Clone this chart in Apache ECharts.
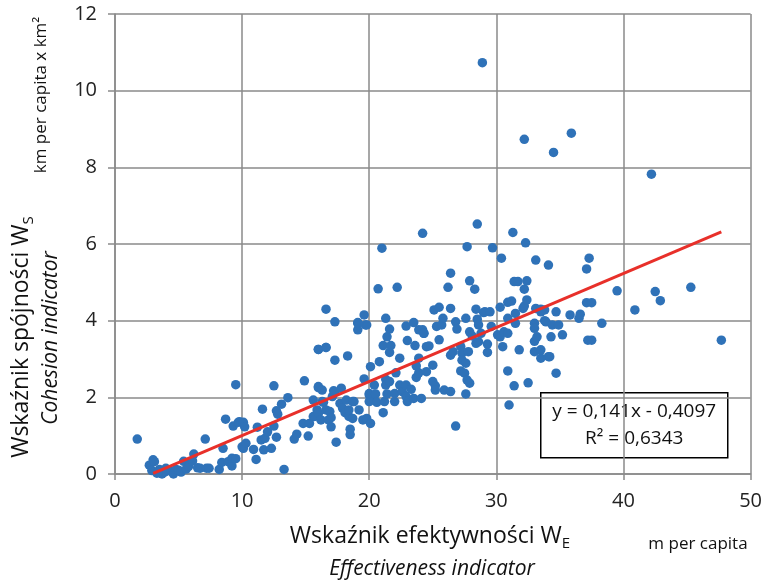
<!DOCTYPE html>
<html>
<head>
<meta charset="utf-8">
<script src="https://cdn.jsdelivr.net/npm/echarts@6/dist/echarts.min.js"></script>
<style>
html,body{margin:0;padding:0;background:#fff;}
#chart{width:765px;height:585px;}
</style>
</head>
<body>
<div id="chart"></div>
<script>
// effectiveness indicator W_E (m per capita)
var xVals=[
1.75,2.7,3.0,2.9,3.1,3.3,3.5,3.7,3.9,4.2,4.4,4.6,4.8,5.0,5.2,5.4,5.6,5.8,6.1,6.2,
6.5,6.7,7.1,7.2,7.4,8.2,8.4,8.5,8.7,8.9,9.2,9.2,9.3,9.5,9.5,9.8,9.7,3.4,4.0,
10.0,10.1,10.1,10.2,10.3,10.9,11.1,11.2,11.5,11.6,11.7,11.8,12.0,12.3,12.5,12.5,12.7,12.7,12.8,13.1,13.3,13.6,14.1,14.3,14.8,14.9,
15.2,15.3,15.6,15.6,15.7,15.9,16.0,16.0,16.0,16.2,16.3,16.3,16.4,16.6,16.8,16.9,17.0,17.0,17.1,17.2,17.3,17.4,17.7,17.8,17.9,
18.1,18.2,18.4,18.4,18.5,18.5,18.7,18.7,18.8,19.2,19.5,19.6,19.8,20.0,20.1,20.1,20.1,
16.0,16.6,16.6,17.3,17.3,18.3,19.1,19.1,19.1,19.6,19.7,19.8,16.0,16.6,
20.0,20.0,20.4,20.5,20.6,20.7,20.8,21.0,21.1,21.1,21.2,21.3,21.3,21.3,21.4,21.4,21.6,21.6,21.6,21.7,
22.0,22.0,22.1,22.2,22.4,22.4,22.6,22.9,22.9,22.9,23.0,23.0,23.3,23.5,23.5,23.6,23.7,23.7,23.9,23.9,23.9,
24.1,24.2,24.2,24.3,24.3,24.5,24.5,24.7,
25.0,25.0,25.1,25.2,25.2,25.3,25.5,25.5,25.7,25.8,25.9,26.2,26.4,26.4,26.4,26.4,26.6,26.8,26.8,26.9,
27.2,27.2,27.3,27.3,27.5,27.6,27.6,27.6,27.7,27.7,27.8,27.9,27.9,27.9,28.1,28.3,28.4,28.4,28.5,28.5,
28.6,28.6,28.8,28.9,29.0,29.1,29.3,29.3,29.5,29.6,29.7,
30.1,30.3,30.3,30.4,30.5,30.6,30.9,30.9,30.9,30.9,31.0,31.2,31.3,31.4,31.4,31.5,31.5,31.7,31.8,
32.1,32.2,32.2,32.2,32.3,32.4,32.4,32.5,33.0,33.0,33.0,33.0,33.1,33.1,33.2,33.5,33.5,33.5,33.5,
33.8,33.8,33.9,34.1,34.1,34.2,34.3,34.4,34.5,34.7,34.7,34.9,
35.2,35.8,35.9,36.5,36.6,37.1,37.1,37.2,37.3,37.5,37.5,38.3,39.5,40.9,42.2,42.5,42.9,45.3,47.7
];
// cohesion indicator W_S (km per capita x km2)
var yVals=[
0.91,0.23,0.37,0.09,0.32,0.02,0.12,0.0,0.05,0.1,0.07,0.0,0.12,0.1,0.05,0.33,0.13,0.2,0.34,0.52,
0.16,0.15,0.91,0.15,0.15,0.12,0.3,0.67,1.43,0.32,0.21,0.41,1.25,2.33,0.4,1.36,1.35,0.05,0.15,
0.71,1.35,0.67,1.23,0.8,0.64,0.38,1.22,0.89,1.69,0.63,0.93,1.1,0.67,1.25,2.3,1.65,0.96,1.56,1.82,0.12,1.99,0.91,1.04,1.32,2.43,
0.99,1.32,1.5,1.93,1.5,1.67,1.58,2.25,2.28,1.41,1.89,2.19,1.87,1.67,1.41,1.63,1.23,1.47,2.02,2.17,2.13,0.83,1.84,2.24,1.72,
1.6,1.93,1.5,1.67,1.17,1.03,1.45,1.89,1.89,1.67,1.41,2.48,1.45,2.06,1.32,1.93,2.8,
3.25,3.3,4.3,2.97,3.97,3.08,3.93,3.76,3.95,4.15,3.89,3.89,3.25,3.3,
1.89,2.1,2.32,2.09,1.87,4.83,2.93,5.89,1.6,3.35,1.89,2.47,4.06,2.32,3.58,2.09,2.41,3.17,3.78,3.35,
1.89,2.1,2.64,4.87,2.32,3.02,2.15,2.02,2.32,3.86,1.89,3.48,2.21,1.97,3.95,3.35,2.52,2.82,2.64,3.76,3.02,
1.97,6.28,3.76,3.67,3.67,2.67,3.32,3.34,
2.84,2.41,4.28,2.3,2.19,3.85,3.5,4.35,3.89,4.06,2.19,4.87,5.24,4.32,3.1,2.15,3.19,3.97,1.25,3.78,
3.32,2.69,3.15,2.97,2.63,4.06,2.89,2.09,5.93,2.45,3.19,5.04,3.71,2.37,3.6,4.82,4.3,3.41,6.52,4.04,
3.89,3.45,3.67,10.73,4.21,4.23,3.39,3.17,4.23,3.85,5.9,
3.63,4.35,3.58,5.63,3.32,3.71,4.48,4.06,2.69,3.67,1.8,4.51,6.3,5.02,2.3,4.19,3.93,5.02,3.24,
4.32,4.82,8.73,4.38,6.03,5.04,4.54,2.38,3.93,3.46,3.19,3.8,5.58,4.32,3.58,4.23,3.02,4.3,3.24,
4.0,4.28,3.97,5.45,3.06,3.06,3.58,3.89,8.39,2.63,4.23,3.89,
3.63,4.15,8.89,4.06,4.17,5.35,4.47,3.49,5.63,4.47,3.49,3.93,4.78,4.28,7.82,4.76,4.52,4.87,3.49
];
// linear trend (Excel): y = 0,141x - 0,4097
var trendSlope=0.141;
var trendIntercept=-0.4097;
var trendRange=[3,47.7];

var points=[];
for(var i=0;i<Math.min(xVals.length,yVals.length);i++){
    points.push([xVals[i],yVals[i]]);
}
var trend=trendRange.map(function(x){return [x,trendSlope*x+trendIntercept];});

var chart=echarts.init(document.getElementById('chart'));
var font='"Open Sans", sans-serif';
var option={
    animation:false,
    grid:{left:115,top:14,right:13,bottom:111},
    xAxis:{
        type:'value',min:0,max:50,interval:10,
        axisLine:{show:true,onZero:false,lineStyle:{color:'#8a8a8a',width:1.5}},
        axisTick:{show:true,length:6,lineStyle:{color:'#8a8a8a',width:1.5}},
        axisLabel:{fontSize:20,color:'#222',fontFamily:font,margin:17},
        splitLine:{show:true,lineStyle:{color:'#8a8a8a',width:1.5}}
    },
    yAxis:{
        type:'value',min:0,max:12,interval:2,
        axisLine:{show:true,lineStyle:{color:'#8a8a8a',width:1.5}},
        axisTick:{show:true,length:7,lineStyle:{color:'#8a8a8a',width:1.5}},
        axisLabel:{fontSize:20,color:'#222',fontFamily:font,margin:18},
        splitLine:{show:true,lineStyle:{color:'#8a8a8a',width:1.5}}
    },
    series:[{
        type:'scatter',
        data:points,
        symbolSize:9.5,
        itemStyle:{color:'#2f72b8',opacity:1},
        z:2
    },{
        type:'line',
        data:trend,
        symbol:'none',
        lineStyle:{color:'#e8302a',width:3},
        z:3
    }],
    graphic:[{
        type:'group',left:540,top:392,z:10,
        children:[{
            type:'rect',shape:{x:0,y:0,width:187,height:65},
            style:{fill:'#fff',stroke:'#000',lineWidth:1.5}
        },{
            type:'text',x:93.5,y:19,
            style:{text:'y = 0,141x - 0,4097',fontSize:19,fontFamily:font,fill:'#111',textAlign:'center',textVerticalAlign:'middle'}
        },{
            type:'text',x:93.5,y:46,
            style:{text:'R² = 0,6343',fontSize:19,fontFamily:font,fill:'#111',textAlign:'center',textVerticalAlign:'middle'}
        }]
    },{
        type:'text',x:21,y:337,rotation:Math.PI/2,
        style:{
            text:'{a|Wskaźnik spójności W}{s|S}',
            textAlign:'center',textVerticalAlign:'middle',
            rich:{
                a:{fontSize:23,fontFamily:font,fill:'#111',lineHeight:30},
                s:{fontSize:15,fontFamily:font,fill:'#111',verticalAlign:'bottom',lineHeight:30}
            }
        }
    },{
        type:'text',x:51,y:338,rotation:Math.PI/2,
        style:{text:'Cohesion indicator',fontSize:21,fontStyle:'italic',fontFamily:font,fill:'#111',textAlign:'center',textVerticalAlign:'middle'}
    },{
        type:'text',x:41,y:95,rotation:Math.PI/2,
        style:{text:'km per capita x km²',fontSize:17,fontFamily:font,fill:'#111',textAlign:'center',textVerticalAlign:'middle'}
    },{
        type:'text',x:430,y:536,
        style:{
            text:'{a|Wskaźnik efektywności W}{s|E}',
            textAlign:'center',textVerticalAlign:'middle',
            rich:{
                a:{fontSize:23,fontFamily:font,fill:'#111',lineHeight:30},
                s:{fontSize:15,fontFamily:font,fill:'#111',verticalAlign:'bottom',lineHeight:30}
            }
        }
    },{
        type:'text',x:432,y:569,
        style:{text:'Effectiveness indicator',fontSize:21,fontStyle:'italic',fontFamily:font,fill:'#111',textAlign:'center',textVerticalAlign:'middle'}
    },{
        type:'text',x:698,y:544,
        style:{text:'m per capita',fontSize:17,fontFamily:font,fill:'#111',textAlign:'center',textVerticalAlign:'middle'}
    }]
};
chart.setOption(option);
</script>
</body>
</html>
